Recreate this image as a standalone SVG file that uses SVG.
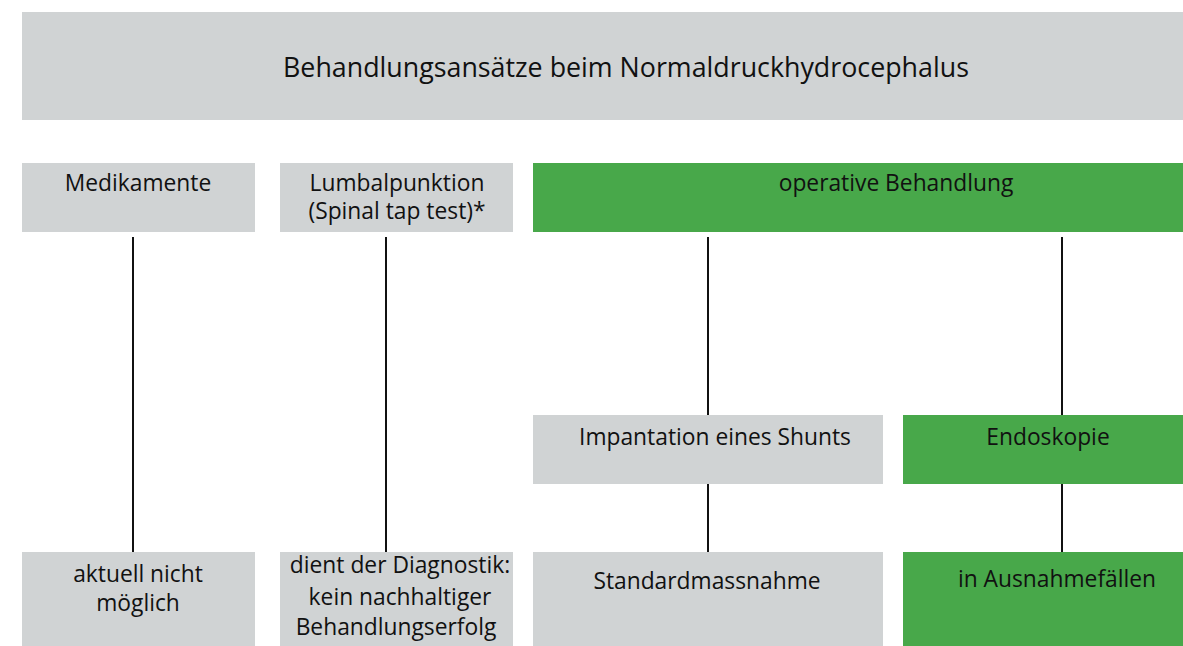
<svg xmlns="http://www.w3.org/2000/svg" width="1183" height="646" viewBox="0 0 1183 646">
<style>
.g{fill:#d0d3d4}
.gr{fill:#48a84a}
text{font-family:"Open Sans","Noto Sans",sans-serif;fill:#111;text-anchor:middle;font-size:22.8px}
.t{font-size:26.8px}
.c line{stroke:#111;stroke-width:2}
</style>
<rect width="1183" height="646" fill="#fff"/>
<g id="title"><rect class="g" x="22" y="12" width="1161" height="108"/><text class="t" x="626" y="77">Behandlungsansätze beim Normaldruckhydrocephalus</text></g>
<g class="c" id="connectors">
<line x1="133" y1="237" x2="133" y2="552"/>
<line x1="386" y1="237" x2="386" y2="552"/>
<line x1="708" y1="237" x2="708" y2="415"/>
<line x1="1062" y1="237" x2="1062" y2="415"/>
<line x1="708" y1="484" x2="708" y2="552"/>
<line x1="1062" y1="484" x2="1062" y2="552"/>
</g>
<g id="medikamente"><rect class="g" x="22" y="163" width="233" height="69"/><text x="138" y="191">Medikamente</text></g>
<g id="lumbal"><rect class="g" x="280" y="163" width="233" height="69"/><text x="397" y="191">Lumbalpunktion</text><text x="397" y="219">(Spinal tap test)*</text></g>
<g id="operativ"><rect class="gr" x="533" y="163" width="650" height="69"/><text x="896" y="191">operative Behandlung</text></g>
<g id="shunt"><rect class="g" x="533" y="415" width="350" height="69"/><text x="715" y="445">Impantation eines Shunts</text></g>
<g id="endoskopie"><rect class="gr" x="903" y="415" width="280" height="69"/><text x="1048" y="445">Endoskopie</text></g>
<g id="nicht"><rect class="g" x="22" y="552" width="233" height="94"/><text x="138" y="582">aktuell nicht</text><text x="138" y="611">möglich</text></g>
<g id="diagnostik"><rect class="g" x="280" y="552" width="233" height="94"/><text x="400" y="573">dient der Diagnostik:</text><text x="400" y="605">kein nachhaltiger</text><text x="396" y="635">Behandlungserfolg</text></g>
<g id="standard"><rect class="g" x="533" y="552" width="350" height="94"/><text x="707" y="589">Standardmassnahme</text></g>
<g id="ausnahme"><rect class="gr" x="903" y="552" width="280" height="94"/><text x="1057" y="587">in Ausnahmefällen</text></g>
</svg>
